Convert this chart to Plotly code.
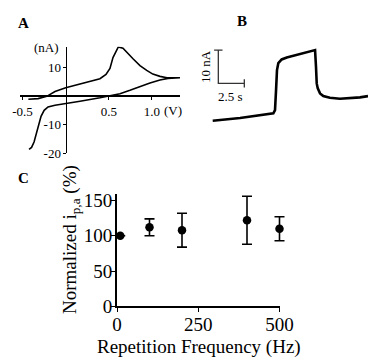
import plotly.graph_objects as go

W, H = 368, 357
FONT = "Liberation Serif"

# ---------------- Panel A: cyclic voltammogram ----------------
cv_upper_v = [-0.433, -0.32, -0.22, -0.124, 0.0, 0.166, 0.397, 0.467, 0.513, 0.548, 0.61,
              0.664, 0.722, 0.783, 0.861, 0.939, 1.01, 1.093, 1.174, 1.243, 1.325]
cv_upper_i = [-1.0, -0.8, 0.0, 1.7, 3.0, 4.4, 6.2, 7.7, 9.8, 13.6, 17.3,
              16.9, 15.0, 13.1, 10.8, 9.1, 7.8, 7.0, 6.5, 6.5, 6.5]
cv_lower_v = [1.325, 1.185, 1.093, 0.977, 0.861, 0.745, 0.629, 0.513, 0.397, 0.166, 0.0,
              -0.124, -0.205, -0.25, -0.286, -0.315, -0.344, -0.367, -0.396, -0.425]
cv_lower_i = [6.5, 6.3, 5.7, 4.7, 3.5, 2.1, 0.9, 0.2, -0.5, -1.7, -2.6,
              -3.1, -3.7, -4.9, -7.0, -10.1, -13.6, -16.0, -17.9, -18.6]
a_xticks = [-0.5, 0.5, 1.0]
a_xticktext = ["-0.5", "0.5", "1.0"]
a_yticks = [10, -10, -20]
a_yticktext = ["10", "-10", "-20"]

# ---------------- Panel B: amperometric trace ----------------
trace_t = [0, 2.63, 5.83, 5.99, 6.09, 6.18, 6.31, 6.63, 7.12, 8.39, 9.04, 9.84,
           9.93, 10.0, 10.1, 10.32, 10.63, 11.27, 12.23, 13.2, 14.16, 14.93]
trace_i = [0, 0.81, 2.22, 3.2, 9.2, 15.2, 17.3, 18.4, 19.0, 20.0, 20.7, 21.2,
           16.2, 11.2, 9.7, 8.2, 7.4, 6.9, 6.6, 6.7, 7.0, 7.4]
scale_origin = (0.54, 11.2)
scale_t = 2.5   # s
scale_i = 10    # nA

# ---------------- Panel C: normalized peak current ----------------
freq = [10, 100, 200, 400, 500]
ipa = [100, 112, 108, 122, 110]
ipa_err = [0, 12, 24, 34, 17]
c_xticks = [0, 250, 500]
c_yticks = [0, 50, 100, 150]
c_xrange = [0, 500]
c_yrange = [0, 160]


def px(x):
    return x / W


def py(y):
    return 1 - y / H


fig = go.Figure()

# Panel A
a_xrange = [-0.53, 1.325]
a_yrange = [-20, 17.4]
a_xdom = [px(20), px(180)]
a_ydom = [py(153.4), py(46.7)]
fig.add_trace(go.Scatter(x=cv_lower_v[::-1] + cv_upper_v[::-1],
                         y=cv_lower_i[::-1] + cv_upper_i[::-1],
                         mode="lines", line=dict(color="black", width=1.6),
                         xaxis="x", yaxis="y", showlegend=False, hoverinfo="skip"))
xpos_a = a_ydom[0] + (0 - a_yrange[0]) / (a_yrange[1] - a_yrange[0]) * (a_ydom[1] - a_ydom[0])
ypos_a = a_xdom[0] + (0 - a_xrange[0]) / (a_xrange[1] - a_xrange[0]) * (a_xdom[1] - a_xdom[0])

# Panel B
b_xrange = [-0.356, 14.93]
b_yrange = [-1.2, 23.63]
fig.add_trace(go.Scatter(x=trace_t, y=trace_i, mode="lines",
                         line=dict(color="black", width=2.6),
                         xaxis="x2", yaxis="y2", showlegend=False, hoverinfo="skip"))
sx, sy = scale_origin
fig.add_trace(go.Scatter(x=[sx, sx, sx + scale_t], y=[sy + scale_i, sy, sy],
                         mode="lines", line=dict(color="#333333", width=1.3),
                         xaxis="x2", yaxis="y2", showlegend=False, hoverinfo="skip"))
fig.add_trace(go.Scatter(x=[sx, sx + scale_t], y=[sy + scale_i, sy],
                         mode="markers",
                         marker=dict(symbol=["line-ew", "line-ns"], size=6,
                                     line=dict(color="#333333", width=1.3)),
                         xaxis="x2", yaxis="y2", showlegend=False, hoverinfo="skip"))

# Panel C (data drawn on an overlay axis with the same scale but a wider clip area)
c_xdom = [px(117), px(279.5)]
c_ydom = [py(306.3), py(193.5)]
c_xdom_wide = [c_xdom[0], px(300)]
c_xrange_wide = [c_xrange[0], c_xrange[0] + (c_xrange[1] - c_xrange[0]) *
                 (c_xdom_wide[1] - c_xdom_wide[0]) / (c_xdom[1] - c_xdom[0])]
fig.add_trace(go.Scatter(x=[], y=[], mode="markers", xaxis="x3", yaxis="y3",
                         showlegend=False, hoverinfo="skip"))
fig.add_trace(go.Scatter(x=freq, y=ipa, mode="markers",
                         marker=dict(color="black", size=8.5),
                         error_y=dict(type="data", array=ipa_err, color="black",
                                      thickness=1.6, width=5),
                         cliponaxis=False,
                         xaxis="x4", yaxis="y3", showlegend=False, hoverinfo="skip"))

tickfont_a = dict(family=FONT, size=13, color="black")
tickfont_c = dict(family=FONT, size=19, color="black")

fig.update_layout(
    width=W, height=H,
    margin=dict(l=0, r=0, t=0, b=0, autoexpand=False),
    paper_bgcolor="white", plot_bgcolor="rgba(0,0,0,0)",
    font=dict(family=FONT, color="black"),
    xaxis=dict(domain=a_xdom, range=a_xrange, anchor="free", position=xpos_a,
               automargin=False,
               showline=True, linecolor="black", linewidth=2,
               showgrid=False, zeroline=False,
               ticks="outside", ticklen=3, tickwidth=1.2, tickcolor="black",
               tickvals=a_xticks, ticktext=a_xticktext, tickfont=tickfont_a),
    yaxis=dict(domain=a_ydom, range=a_yrange, anchor="free", position=ypos_a,
               automargin=False,
               showline=True, linecolor="black", linewidth=1.4,
               showgrid=False, zeroline=False,
               ticks="outside", ticklen=3, tickwidth=1.2, tickcolor="black",
               tickvals=a_yticks, ticktext=a_yticktext, tickfont=tickfont_a,
               ticklabelstandoff=-1),
    xaxis2=dict(domain=[px(209), px(368)], range=b_xrange, anchor="y2", visible=False,
                automargin=False),
    yaxis2=dict(domain=[py(124.7), py(42)], range=b_yrange, anchor="x2", visible=False,
                automargin=False),
    xaxis3=dict(domain=c_xdom, range=c_xrange, anchor="y3",
                automargin=False,
                showline=True, linecolor="black", linewidth=2,
                showgrid=False, zeroline=False,
                ticks="outside", ticklen=4, tickwidth=1.4, tickcolor="black",
                tickvals=c_xticks, tickfont=tickfont_c, ticklabelstandoff=-4),
    xaxis4=dict(domain=c_xdom_wide, range=c_xrange_wide, anchor="y3", visible=False,
                automargin=False),
    yaxis3=dict(domain=c_ydom, range=c_yrange, anchor="x3",
                automargin=False,
                showline=True, linecolor="black", linewidth=2,
                showgrid=False, zeroline=False,
                ticks="outside", ticklen=4, tickwidth=1.4, tickcolor="black",
                tickvals=c_yticks, tickfont=tickfont_c, ticklabelstandoff=-5),
)

ann = [
    dict(text="<b>A</b>", x=px(23.3), y=py(23), size=15, angle=0),
    dict(text="<b>B</b>", x=px(242.5), y=py(21), size=15, angle=0),
    dict(text="<b>C</b>", x=px(23.3), y=py(177.5), size=15, angle=0),
    dict(text="(nA)", x=px(46), y=py(48), size=13, angle=0),
    dict(text="(V)", x=px(173), y=py(110), size=13, angle=0),
    dict(text="2.5 s", x=px(231), y=py(97), size=13, angle=0),
    dict(text="10 nA", x=px(205), y=py(67), size=13, angle=-90),
    dict(text="Repetition Frequency (Hz)", x=px(198.5), y=py(346.5), size=19, angle=0),
    dict(text="Normalized i<sub>p,a</sub> (%)", x=px(71), y=py(240), size=19, angle=-90),
]
for a in ann:
    fig.add_annotation(text=a["text"], x=a["x"], y=a["y"], xref="paper", yref="paper",
                       showarrow=False, xanchor="center", yanchor="middle",
                       textangle=a["angle"],
                       font=dict(family=FONT, size=a["size"], color="black"))

fig.write_html("out.html")
